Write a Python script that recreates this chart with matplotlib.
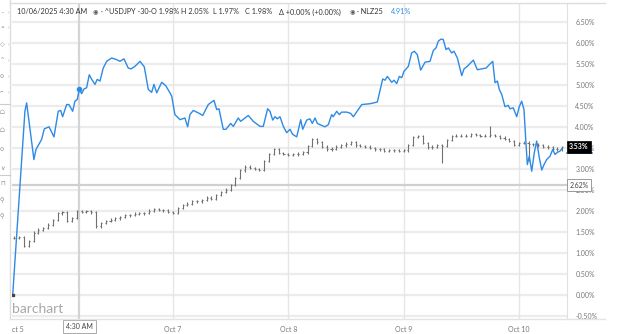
import numpy as np
import matplotlib
matplotlib.use("Agg")
import matplotlib.pyplot as plt
from matplotlib.lines import Line2D
from matplotlib.transforms import blended_transform_factory

plt.rcParams['font.family'] = ['Lato', 'DejaVu Sans']

# NLZ25 percent change line (time in fractional October days, value in %)
blue_t = [5.610, 5.716, 5.731, 5.794, 5.812, 5.861, 5.884, 5.925, 5.968, 6.005,
          6.026, 6.043, 6.078, 6.098, 6.130, 6.150, 6.170, 6.1875, 6.208, 6.228,
          6.251, 6.274, 6.295, 6.324, 6.343, 6.367, 6.395, 6.425, 6.468, 6.512,
          6.540, 6.575, 6.612, 6.636, 6.670, 6.714, 6.751, 6.786, 6.815, 6.835,
          6.859, 6.902, 6.937, 6.974, 6.989, 7.017, 7.061, 7.104, 7.127, 7.147,
          7.176, 7.228, 7.258, 7.306, 7.356, 7.379, 7.399, 7.436, 7.460, 7.500,
          7.523, 7.566, 7.587, 7.653, 7.696, 7.755, 7.783, 7.821, 7.841, 7.865,
          7.885, 7.905, 7.928, 7.957, 7.986, 8.015, 8.038, 8.073, 8.108, 8.125,
          8.160, 8.188, 8.208, 8.232, 8.252, 8.275, 8.318, 8.347, 8.376, 8.390,
          8.420, 8.442, 8.463, 8.507, 8.541, 8.564, 8.637, 8.709, 8.772, 8.819,
          8.839, 8.859, 8.897, 8.917, 8.940, 8.963, 8.984, 9.003, 9.041, 9.070,
          9.093, 9.119, 9.148, 9.186, 9.229, 9.258, 9.281, 9.301, 9.324, 9.344,
          9.368, 9.388, 9.417, 9.437, 9.466, 9.504, 9.524, 9.552, 9.605, 9.639,
          9.677, 9.715, 9.743, 9.773, 9.793, 9.813, 9.830, 9.851, 9.879, 9.908,
          9.923, 9.951, 9.981, 10.003, 10.024, 10.044, 10.059, 10.073, 10.090, 10.111,
          10.134, 10.154, 10.177, 10.198, 10.218, 10.241, 10.270, 10.293, 10.313, 10.333,
          10.356, 10.374]
blue_v = [0.00, 4.38, 4.58, 3.23, 3.47, 3.71, 3.96, 4.01, 3.77, 4.38,
          4.40, 4.25, 4.54, 4.54, 4.38, 4.62, 4.66, 4.91, 4.80, 4.91,
          4.94, 5.25, 5.14, 5.02, 5.14, 5.10, 5.41, 5.57, 5.65, 5.61,
          5.57, 5.63, 5.41, 5.39, 5.45, 5.57, 5.44, 4.90, 4.83, 5.02,
          4.82, 5.07, 4.99, 4.82, 4.74, 4.30, 4.18, 4.22, 4.01, 4.30,
          4.40, 4.33, 4.28, 4.54, 4.64, 4.42, 4.44, 3.95, 3.95, 4.09,
          4.02, 4.22, 4.14, 4.28, 4.14, 4.02, 4.02, 4.44, 4.38, 4.17,
          4.25, 4.20, 4.25, 4.02, 3.87, 3.95, 3.83, 3.77, 4.18, 3.95,
          4.17, 4.20, 4.09, 4.22, 4.09, 4.06, 4.01, 4.06, 4.30, 4.25,
          4.38, 4.30, 4.36, 4.36, 4.33, 4.25, 4.54, 4.56, 4.60, 5.15,
          5.12, 5.21, 5.07, 5.12, 5.04, 5.21, 5.18, 5.33, 5.45, 5.77,
          5.81, 5.73, 5.36, 5.55, 5.57, 5.83, 5.89, 6.05, 6.10, 6.09,
          5.85, 5.89, 5.77, 5.81, 5.65, 5.23, 5.39, 5.45, 5.60, 5.37,
          5.39, 5.41, 5.49, 5.57, 5.06, 5.10, 4.90, 4.78, 4.49, 4.52,
          4.44, 4.46, 4.25, 4.49, 4.62, 4.42, 3.71, 3.11, 3.31, 2.95,
          3.40, 3.67, 3.27, 2.98, 3.11, 3.23, 3.31, 3.47, 3.35, 3.40,
          3.43, 3.49]

# ^USDJPY hourly closes (%), first bar Oct 5 15:00
grey_start = 5.625
grey_close = [1.37, 1.38, 1.18, 1.29, 1.49, 1.56, 1.60, 1.68, 1.79, 1.95,
              1.97, 1.76, 1.84, 2.00, 1.98, 2.00, 1.97, 1.64, 1.72, 1.77,
              1.80, 1.83, 1.86, 1.90, 1.91, 1.94, 1.95, 1.96, 2.01, 2.04,
              2.03, 2.02, 1.98, 1.96, 2.07, 2.15, 2.18, 2.24, 2.23, 2.26,
              2.32, 2.30, 2.38, 2.46, 2.51, 2.62, 2.79, 2.97, 3.06, 3.03,
              3.00, 2.99, 3.20, 3.36, 3.47, 3.39, 3.36, 3.34, 3.35, 3.37,
              3.40, 3.55, 3.71, 3.64, 3.54, 3.47, 3.49, 3.54, 3.57, 3.61,
              3.64, 3.57, 3.55, 3.54, 3.50, 3.47, 3.48, 3.44, 3.45, 3.45,
              3.43, 3.45, 3.58, 3.77, 3.78, 3.62, 3.52, 3.54, 3.57, 3.56,
              3.70, 3.79, 3.80, 3.79, 3.80, 3.84, 3.82, 3.80, 3.79, 3.81,
              3.79, 3.75, 3.72, 3.67, 3.58, 3.62, 3.63, 3.60, 3.59, 3.57,
              3.54, 3.52, 3.49, 3.47, 3.53]
# bars whose wick reaches past the open/close range
grey_low_spikes = {89: 3.17, 107: 3.22}
grey_high_spikes = {99: 3.99}

last_value = 3.53
ref_value = 2.62
cross_t = 6.1875
cross_v = 4.91

y_ticks = [-0.5, 0.0, 0.5, 1.0, 1.5, 2.0, 2.5, 3.0, 3.5, 4.0, 4.5, 5.0, 5.5, 6.0, 6.5]
x_days = [7, 8, 9, 10]
x_labels = ['Oct 7', 'Oct 8', 'Oct 9', 'Oct 10']

# header pieces: (text, x pixel, colour)
header = [('10/06/2025 4:30 AM', 17, '#333333'),
          ('· ^USDJPY -30-', 101, '#333333'),
          ('O 1.98%', 151, '#333333'),
          ('H 2.05%', 181, '#333333'),
          ('L 1.97%', 213, '#333333'),
          ('C 1.98%', 245, '#333333'),
          ('Δ +0.00% (+0.00%)', 279, '#333333'),
          ('· NLZ25', 357, '#333333'),
          ('4.91%', 391, '#2d8ae6')]
eye_x = [93, 350]

W, H = 631, 334
fig = plt.figure(figsize=(W / 100, H / 100), dpi=100)
fig.patch.set_facecolor('white')
ax = fig.add_axes([12 / W, 15 / H, 555 / W, 316 / H])
ax.set_xlim(5.604, 10.417)
ax.set_ylim(-0.57, 6.96)

# grid
for v in y_ticks:
    ax.axhline(v, color='#ececec', lw=1.6, zorder=0)
for d in x_days:
    ax.axvline(d, color='#e6e6e6', lw=1.0, zorder=0)
ax.axvline(cross_t, color='#d4d4d4', lw=1.6, zorder=0)
ax.axhline(ref_value, color='#d0d0d0', lw=1.6, zorder=1)

# OHLC bars
n = len(grey_close)
gt = grey_start + np.arange(n) / 24.0
gc = np.array(grey_close)
go = np.concatenate([[gc[0]], gc[:-1]])
ghi = np.maximum(go, gc)
glo = np.minimum(go, gc)
for k, v in grey_low_spikes.items():
    glo[k] = v
for k, v in grey_high_spikes.items():
    ghi[k] = v
tick = 0.009
ax.vlines(gt, glo - 0.03, ghi + 0.03, color='#707070', lw=0.8, zorder=2)
ax.hlines(go, gt - tick, gt, color='#707070', lw=0.8, zorder=2)
ax.hlines(gc, gt, gt + tick, color='#707070', lw=0.8, zorder=2)

# blue line
ax.plot(blue_t, blue_v, color='#2d8ae6', lw=1.0, zorder=3)
ax.plot([cross_t], [cross_v], 'o', color='#2d8ae6', ms=3, zorder=4)
ax.plot([blue_t[0]], [blue_v[0]], 's', color='#444444', ms=1.5, zorder=4)

# axes styling
for s in ['top', 'left', 'bottom']:
    ax.spines[s].set_visible(False)
ax.spines['right'].set_color('#e0e0e0')
ax.yaxis.tick_right()
ax.set_yticks(y_ticks)
ax.set_yticklabels([f'{v:.2f}%' for v in y_ticks])
ax.tick_params(axis='y', length=0, pad=6, labelsize=5.0, labelcolor='#777777')
ax.set_xticks(x_days)
ax.set_xticklabels(x_labels)
ax.tick_params(axis='x', length=0, pad=5, labelsize=5.0, labelcolor='#777777')

tb = blended_transform_factory(ax.transData, ax.transAxes)
ax.text(5.656, -0.022, 'ct 5', transform=tb, ha='center', va='top',
        fontsize=5.0, color='#777777')
ax.text(cross_t, -0.012, '4:30 AM', transform=tb, ha='center', va='top',
        fontsize=5.0, color='#444444',
        bbox=dict(boxstyle='square,pad=0.4', fc='white', ec='#aaaaaa', lw=0.7))

# right-axis value boxes
ty = blended_transform_factory(ax.transAxes, ax.transData)
ax.text(1.004, last_value, f'{last_value:.2f}%', transform=ty, ha='left', va='center',
        fontsize=5.0, color='white', fontweight='bold', clip_on=False, zorder=5,
        bbox=dict(boxstyle='square,pad=0.35', fc='black', ec='black', lw=0.5))
ax.plot([1.0, 1.045], [last_value - 0.15] * 2, transform=ty, color='#2d8ae6',
        lw=1.2, clip_on=False)
ax.text(1.004, ref_value, f'{ref_value:.2f}%', transform=ty, ha='left', va='center',
        fontsize=5.0, color='#444444', clip_on=False, zorder=5,
        bbox=dict(boxstyle='square,pad=0.35', fc='white', ec='#999999', lw=0.7))

# watermark
ax.text(0.0, 0.012, 'barchart', transform=ax.transAxes, ha='left', va='bottom',
        fontsize=10, color='#a8a8a8')

# frame lines
fig.add_artist(Line2D([10 / W, 605 / W], [1 - 3 / H] * 2, color='#dddddd', lw=1.0))
fig.add_artist(Line2D([10 / W, 10 / W], [15 / H, 1], color='#dddddd', lw=1.0))
fig.add_artist(Line2D([10 / W, 605 / W], [15 / H] * 2, color='#e3e3e3', lw=1.0))

# side toolbar
tool_y = [13, 28, 45, 61, 77, 93, 113, 131, 150, 168, 183, 200, 216]
tool_g = ['–', '≈', '◇', '⌃', '○', '⌐', '⌂', '⌂', '○', '∨', '⊓', '⚲', '⚲']
for yy, g in zip(tool_y, tool_g):
    fig.text(0, 1 - yy / H, g, fontsize=4.5, color='#888888', va='center')
    if yy < 100:
        fig.text(7.5 / W, 1 - yy / H, '›', fontsize=4, color='#aaaaaa', va='center')
for yy in [104, 175]:
    fig.add_artist(Line2D([0, 10 / W], [1 - yy / H] * 2, color='#cccccc', lw=0.8))

# header
hy = 1 - 12 / H
for txt, xp, col in header:
    fig.text(xp / W, hy, txt, fontsize=5.2, color=col, va='center')
for xp in eye_x:
    fig.text(xp / W, hy, '◉', fontsize=4.5, color='#555555', va='center')

fig.savefig('out.png', dpi=100, facecolor='white')
